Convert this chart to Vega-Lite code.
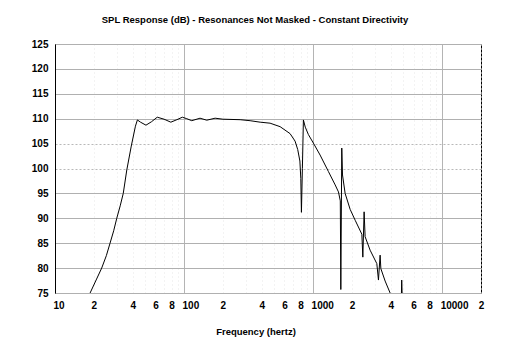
{
  "$schema": "https://vega.github.io/schema/vega-lite/v6.json",
  "width": 426,
  "height": 249,
  "autosize": {"type": "none"},
  "padding": {"left": 55, "top": 44, "right": 30, "bottom": 59},
  "background": "white",
  "config": {"view": {"stroke": "black", "strokeWidth": 1}},
  "title": {
    "text": "SPL Response (dB) - Resonances Not Masked - Constant Directivity",
    "font": "Liberation Sans",
    "fontSize": 9.5,
    "fontWeight": "bold",
    "color": "black",
    "anchor": "middle",
    "dx": -13,
    "offset": 15
  },
  "data": {
    "values": [
      {"f": 10, "db": 50}, {"f": 14, "db": 64}, {"f": 17, "db": 71},
      {"f": 18.7, "db": 75}, {"f": 21, "db": 77.8}, {"f": 23, "db": 80},
      {"f": 25, "db": 82.5}, {"f": 26.7, "db": 85}, {"f": 28.5, "db": 87.5},
      {"f": 30.1, "db": 90}, {"f": 32, "db": 92.5}, {"f": 33.8, "db": 95},
      {"f": 36, "db": 99.7}, {"f": 39, "db": 104.5}, {"f": 42, "db": 108.5},
      {"f": 43.5, "db": 109.75}, {"f": 46, "db": 109.3}, {"f": 50.7, "db": 108.7},
      {"f": 56, "db": 109.4}, {"f": 62, "db": 110.3}, {"f": 70, "db": 109.9},
      {"f": 79, "db": 109.3}, {"f": 88, "db": 109.8}, {"f": 97, "db": 110.3},
      {"f": 105, "db": 110}, {"f": 114.7, "db": 109.6}, {"f": 133, "db": 110.1},
      {"f": 150, "db": 109.7}, {"f": 174, "db": 110.1}, {"f": 200, "db": 109.9},
      {"f": 272, "db": 109.8}, {"f": 325, "db": 109.6}, {"f": 389, "db": 109.3},
      {"f": 464, "db": 109.1}, {"f": 555, "db": 108.4}, {"f": 663, "db": 107.0},
      {"f": 725, "db": 105.5}, {"f": 760, "db": 103.8}, {"f": 790, "db": 101.5},
      {"f": 803, "db": 98}, {"f": 812, "db": 91.2}, {"f": 826, "db": 100},
      {"f": 841, "db": 109.75}, {"f": 870, "db": 108.3}, {"f": 920, "db": 106.8},
      {"f": 1005, "db": 105.1}, {"f": 1133, "db": 102.7}, {"f": 1314, "db": 99.4},
      {"f": 1483, "db": 96.7}, {"f": 1572, "db": 95.3}, {"f": 1625, "db": 93.5},
      {"f": 1640, "db": 75.7}, {"f": 1668, "db": 104.1}, {"f": 1690, "db": 98.7},
      {"f": 1771, "db": 95}, {"f": 1936, "db": 91.8}, {"f": 2119, "db": 89.6},
      {"f": 2387, "db": 86.8}, {"f": 2429, "db": 82.2}, {"f": 2485, "db": 91.3},
      {"f": 2530, "db": 86.3}, {"f": 2766, "db": 83.6}, {"f": 3117, "db": 80.9},
      {"f": 3210, "db": 77.6}, {"f": 3306, "db": 82.6}, {"f": 3350, "db": 79.9},
      {"f": 3615, "db": 77.4}, {"f": 3953, "db": 75}, {"f": 4300, "db": 73},
      {"f": 4820, "db": 73}, {"f": 4860, "db": 77.6}, {"f": 4920, "db": 73},
      {"f": 5500, "db": 68}, {"f": 10000, "db": 55}, {"f": 20000, "db": 45}
    ]
  },
  "mark": {"type": "line", "color": "black", "strokeWidth": 1, "clip": true},
  "encoding": {
    "x": {
      "field": "f",
      "type": "quantitative",
      "scale": {"type": "log", "domain": [10, 20000], "nice": false},
      "axis": {
        "title": "Frequency (hertz)",
        "titleFont": "Liberation Sans",
        "titleFontSize": 9.5,
        "titleFontWeight": "bold",
        "titleColor": "black",
        "titleX": 200.5,
        "titleY": 38,
        "titleAlign": "center",
        "titleBaseline": "middle",
        "values": [10, 20, 30, 40, 50, 60, 70, 80, 90, 100, 200, 300, 400, 500, 600, 700, 800, 900, 1000, 2000, 3000, 4000, 5000, 6000, 7000, 8000, 9000, 10000, 20000],
        "format": "d",
        "labelExpr": "substring(datum.label,0,1) == '1' ? datum.label : (indexof('2468', substring(datum.label,0,1)) >= 0 ? substring(datum.label,0,1) : '')",
        "labelFont": "Liberation Sans",
        "labelFontSize": 10,
        "labelFontWeight": "bold",
        "labelColor": "black",
        "labelAlign": {"condition": {"test": "datum.value == 10 || datum.value == 100 || datum.value == 1000 || datum.value == 10000", "value": "left"}, "value": "center"},
        "labelOffset": {"condition": {"test": "datum.value == 10 || datum.value == 100 || datum.value == 1000 || datum.value == 10000", "value": -2}, "value": 0},
        "labelPadding": 7,
        "labelOverlap": false,
        "labelFlush": false,
        "tickSize": 0,
        "ticks": false,
        "domain": false,
        "grid": true,
        "gridColor": {"condition": {"test": "datum.value == 10 || datum.value == 100 || datum.value == 1000 || datum.value == 10000", "value": "#b4b4b4"}, "value": "#e6e6e6"},
        "gridDash": {"condition": {"test": "datum.value == 10 || datum.value == 100 || datum.value == 1000 || datum.value == 10000", "value": []}, "value": [1, 3]}
      }
    },
    "y": {
      "field": "db",
      "type": "quantitative",
      "scale": {"domain": [75, 125], "nice": false, "zero": false},
      "axis": {
        "title": null,
        "values": [75, 80, 85, 90, 95, 100, 105, 110, 115, 120, 125],
        "labelFont": "Liberation Sans",
        "labelFontSize": 10,
        "labelFontWeight": "bold",
        "labelColor": "black",
        "labelPadding": 7,
        "labelOverlap": false,
        "labelFlush": false,
        "ticks": false,
        "tickSize": 0,
        "domain": true,
        "domainColor": "black",
        "grid": true,
        "gridColor": {"condition": {"test": "datum.value == 100 || datum.value == 105", "value": "#b8b8b8"}, "value": "#b0b0b0"},
        "gridDash": {"condition": {"test": "datum.value == 100 || datum.value == 105", "value": [2, 2]}, "value": []}
      }
    }
  }
}
